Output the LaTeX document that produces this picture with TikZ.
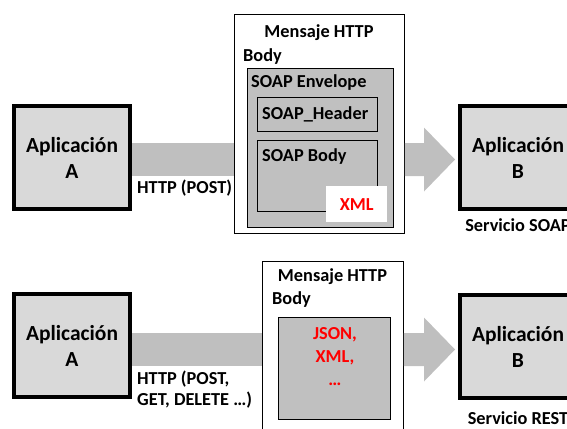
\documentclass[tikz,border=0pt]{standalone}
\usepackage{fontspec}
\setmainfont{Carlito}
\usetikzlibrary{calc,backgrounds}
\definecolor{boxgray}{HTML}{D9D9D9}
\definecolor{envgray}{HTML}{C0C0C0}
\definecolor{bargray}{HTML}{BFBFBF}
\definecolor{xmlred}{HTML}{FF0000}
\begin{document}
\begin{tikzpicture}[x=1pt,y=-1pt,
  app/.style={draw=black, line width=4pt, fill=boxgray, minimum width=116pt,
    minimum height=103pt, inner sep=0pt, align=center,
    font=\fontsize{21.5}{26}\selectfont\bfseries},
  frame/.style={draw=black, line width=0.9pt, fill=white, inner sep=0pt, anchor=north west},
  inbox/.style={draw=black, line width=0.9pt, fill=envgray, inner sep=0pt, anchor=north west},
  lbl/.style={font=\fontsize{18.3}{21}\selectfont\bfseries, inner sep=0pt},
  redlbl/.style={font=\fontsize{18.3}{23}\selectfont\bfseries, inner sep=0pt,
    text=xmlred, align=center},
  pipe/.style={draw=bargray, line width=33pt},
  head/.style={fill=bargray},
]
\useasboundingbox (0,0) rectangle (567,428);
\clip (0,0) rectangle (567,428);

% ---------- SOAP ----------
\node[app] (appA1) at (72,157.5) {Aplicación\\A};
\node[app] (appB1) at (518,157.5) {Aplicación\\B};
\node[lbl] (srv1) at (518,225) {Servicio SOAP};

\node[frame, minimum width=170pt, minimum height=219pt] (msg1) at (234,14) {};
\node[lbl] (title1) at (319,33) {Mensaje HTTP};
\node[lbl, anchor=west] (body1) at (243,57) {Body};
\node[inbox, minimum width=146pt, minimum height=159pt] (env) at (247,68) {};
\node[lbl, anchor=west] (envlbl) at (251,83) {SOAP Envelope};
\node[inbox, minimum width=120pt, minimum height=34pt] (hdr) at (257,97) {};
\node[lbl, anchor=west] (hdrlbl) at (262,114) {SOAP\_Header};
\node[inbox, minimum width=120pt, minimum height=71pt] (sbody) at (257,140) {};
\node[lbl, anchor=west] (sbodylbl) at (262,157) {SOAP Body};
\node[fill=white, minimum width=61pt, minimum height=36pt, inner sep=0pt,
  anchor=north west, text=xmlred, font=\fontsize{18.3}{21}\selectfont\bfseries]
  (xml) at (326,186) {XML};
\node[lbl, anchor=north west, align=left] (http1) at (137,180) {HTTP (POST)};

% ---------- REST ----------
\node[app] (appA2) at (72,345.5) {Aplicación\\A};
\node[app] (appB2) at (518,346.5) {Aplicación\\B};
\node[lbl] (srv2) at (518,418) {Servicio REST};

\node[frame, minimum width=141pt, minimum height=180pt] (msg2) at (262,261) {};
\node[lbl] (title2) at (332.5,277) {Mensaje HTTP};
\node[lbl, anchor=west] (body2) at (272,300) {Body};
\node[inbox, minimum width=112pt, minimum height=102pt] (payload) at (278,317) {};
\node[redlbl] (fmt) at (335,357) {JSON,\\XML,\\…};
\node[lbl, anchor=north west, align=left] (http2) at (137,371) {HTTP (POST,\\GET, DELETE …)};

% ---------- connectors (behind the boxes) ----------
\begin{scope}[on background layer]
  \coordinate (y1) at ([yshift=-2pt]appA1.east);
  \coordinate (y2) at ([yshift=-4pt]appA2.east);
  \draw[pipe] (y1) -- (y1 -| msg1.west);
  \draw[pipe] (y2) -- (y2 -| msg2.west);
\end{scope}
\coordinate (s1) at (y1 -| msg1.east);
\coordinate (t1) at ([xshift=-3pt]y1 -| appB1.west);
\coordinate (h1) at ($(t1)+(-31,0)$);
\fill[head] ($(s1)+(0,-16.5)$) -- ($(h1)+(0,-16.5)$) -- ($(h1)+(0,-32)$) -- (t1)
  -- ($(h1)+(0,32)$) -- ($(h1)+(0,16.5)$) -- ($(s1)+(0,16.5)$) -- cycle;
\coordinate (s2) at (y2 -| msg2.east);
\coordinate (t2) at ([xshift=-3pt]y2 -| appB2.west);
\coordinate (h2) at ($(t2)+(-31,0)$);
\fill[head] ($(s2)+(0,-16.5)$) -- ($(h2)+(0,-16.5)$) -- ($(h2)+(0,-32)$) -- (t2)
  -- ($(h2)+(0,32)$) -- ($(h2)+(0,16.5)$) -- ($(s2)+(0,16.5)$) -- cycle;
\end{tikzpicture}
\end{document}
